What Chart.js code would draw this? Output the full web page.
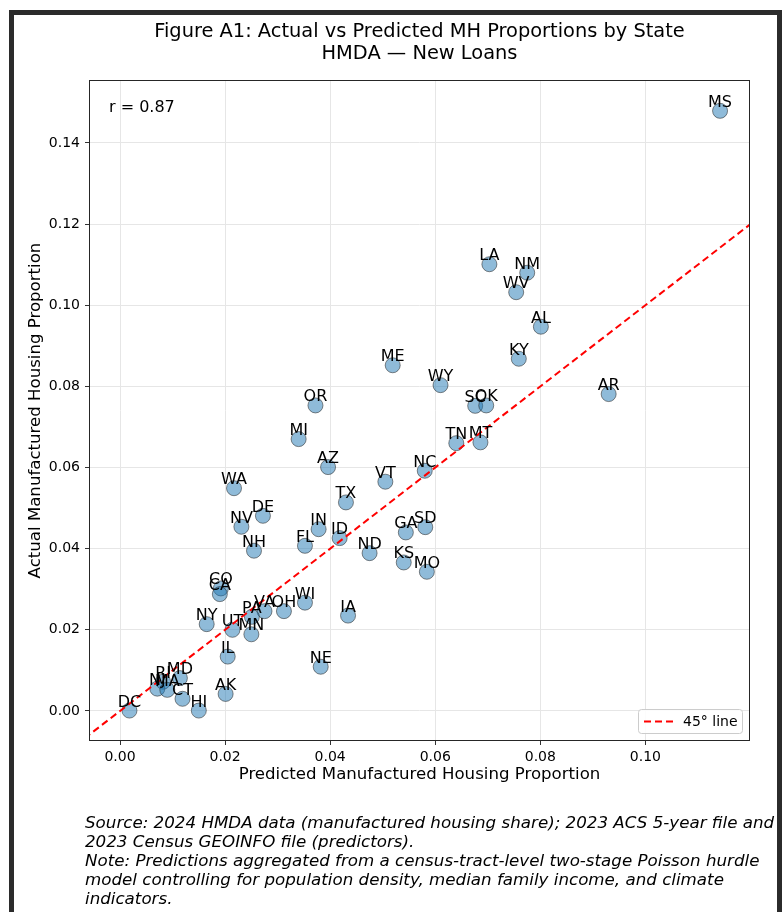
<!DOCTYPE html>
<html>
<head>
<meta charset="utf-8">
<script src="https://cdn.jsdelivr.net/npm/chart.js@4.4.1/dist/chart.umd.min.js"></script>
<style>
  html, body { margin: 0; padding: 0; background: #ffffff; }
  body { width: 784px; height: 912px; position: relative; overflow: hidden; font-family: "DejaVu Sans", sans-serif; }
  #frame { position: absolute; left: 9px; top: 10px; width: 763px; height: 960px; border: 5px solid #2b2b2b; border-bottom: none; box-sizing: content-box; }
  #chart { position: absolute; left: 0; top: 0; }
  #title { position: absolute; left: 60px; width: 719px; top: 20px; text-align: center; font-size: 19.4px; line-height: 22px; color: #000; white-space: nowrap; }
  #footer { position: absolute; left: 85px; top: 813px; font-size: 16.7px; line-height: 18.9px; font-style: italic; color: #000; white-space: nowrap; }
</style>
</head>
<body>
<div id="frame"></div>
<canvas id="chart" width="784" height="912"></canvas>
<div id="title">Figure A1: Actual vs Predicted MH Proportions by State<br>HMDA — New Loans</div>
<div id="footer">Source: 2024 HMDA data (manufactured housing share); 2023 ACS 5-year file and<br>2023 Census GEOINFO file (predictors).<br>Note: Predictions aggregated from a census-tract-level two-stage Poisson hurdle<br>model controlling for population density, median family income, and climate<br>indicators.</div>
<script>
// ---- data ----
const states = ["MS","LA","NM","WV","AL","KY","ME","WY","AR","SC","OK","OR","MI","TN","MT","AZ","NC","VT","WA","TX","DE","NV","SD","IN","GA","ID","FL","NH","ND","KS","MO","CO","CA","WI","OH","VA","IA","PA","NY","UT","MN","IL","NE","MD","RI","NJ","MA","AK","CT","HI","DC"];
const predicted = [0.1142,0.0703,0.0775,0.0754,0.0801,0.0759,0.0519,0.0610,0.0930,0.0676,0.0697,0.0372,0.0340,0.0640,0.0686,0.0396,0.0580,0.0505,0.0217,0.0430,0.0272,0.0231,0.0581,0.0378,0.0544,0.0418,0.0352,0.0255,0.0475,0.0540,0.0584,0.0192,0.0190,0.0352,0.0312,0.0275,0.0434,0.0251,0.0165,0.0214,0.0250,0.0205,0.0382,0.0114,0.0082,0.0071,0.0090,0.0201,0.0119,0.0150,0.0018];
const actual = [0.1479,0.1101,0.1080,0.1032,0.0947,0.0868,0.0852,0.0803,0.0781,0.0752,0.0753,0.0753,0.0670,0.0660,0.0662,0.0601,0.0592,0.0565,0.0549,0.0514,0.0481,0.0454,0.0453,0.0448,0.0440,0.0426,0.0407,0.0395,0.0389,0.0366,0.0343,0.0302,0.0288,0.0267,0.0246,0.0246,0.0235,0.0232,0.0214,0.0200,0.0189,0.0134,0.0109,0.0081,0.0072,0.0055,0.0052,0.0042,0.0030,0.0001,0.0001];
const diagonal = [-0.02, 0.15];
const xTicks = [0.00, 0.02, 0.04, 0.06, 0.08, 0.10];
const yTicks = [0.00, 0.02, 0.04, 0.06, 0.08, 0.10, 0.12, 0.14];
const correlation = 0.87;
const lineLabel = "45° line";
const xTitle = "Predicted Manufactured Housing Proportion";
const yTitle = "Actual Manufactured Housing Proportion";

const points = states.map((s, i) => ({ x: predicted[i], y: actual[i], label: s }));
const diagPoints = diagonal.map(v => ({ x: v, y: v }));

const FONT = "'DejaVu Sans', sans-serif";

const extrasPlugin = {
  id: 'extras',
  afterDatasetsDraw(chart) {
    const ctx = chart.ctx;
    const area = chart.chartArea;
    const meta = chart.getDatasetMeta(0);
    ctx.save();
    ctx.font = "16px " + FONT;
    ctx.fillStyle = "#000";
    ctx.textAlign = "center";
    ctx.textBaseline = "alphabetic";
    meta.data.forEach((el, i) => {
      ctx.fillText(points[i].label, el.x, el.y - 4);
    });
    ctx.textAlign = "left";
    ctx.textBaseline = "middle";
    ctx.fillText("r = " + correlation.toFixed(2), area.left + 20, area.top + 28);
    // legend
    const lx = area.right - 112, ly = area.bottom - 32, lw = 104, lh = 24;
    ctx.fillStyle = "rgba(255,255,255,0.85)";
    ctx.strokeStyle = "#cccccc";
    ctx.lineWidth = 1;
    ctx.beginPath();
    if (ctx.roundRect) ctx.roundRect(lx + 0.5, ly + 0.5, lw, lh, 3); else ctx.rect(lx + 0.5, ly + 0.5, lw, lh);
    ctx.fill();
    ctx.stroke();
    const ds = chart.data.datasets[1];
    ctx.strokeStyle = ds.borderColor;
    ctx.lineWidth = ds.borderWidth;
    ctx.setLineDash(ds.borderDash);
    ctx.beginPath();
    ctx.moveTo(lx + 6, ly + lh / 2 + 0.5);
    ctx.lineTo(lx + 35, ly + lh / 2 + 0.5);
    ctx.stroke();
    ctx.setLineDash([]);
    ctx.fillStyle = "#000";
    ctx.font = "14px " + FONT;
    ctx.textBaseline = "middle";
    ctx.fillText(ds.label, lx + 45, ly + lh / 2 + 1);
    // plot frame
    ctx.strokeStyle = "#262626";
    ctx.lineWidth = 1;
    ctx.strokeRect(area.left + 0.5, area.top + 0.5, area.right - area.left - 1, area.bottom - area.top - 1);
    ctx.restore();
  }
};

new Chart(document.getElementById('chart'), {
  type: 'scatter',
  data: {
    datasets: [
      {
        label: 'States',
        data: points,
        backgroundColor: 'rgba(31,119,180,0.5)',
        borderColor: 'rgba(40,40,40,0.55)',
        borderWidth: 1,
        pointRadius: 7.5,
        pointHoverRadius: 7.5,
        order: 2
      },
      {
        label: lineLabel,
        type: 'line',
        data: diagPoints,
        borderColor: '#ff0000',
        borderWidth: 2,
        borderDash: [7, 4],
        pointRadius: 0,
        fill: false,
        showLine: true,
        order: 1
      }
    ]
  },
  options: {
    responsive: false,
    animation: false,
    devicePixelRatio: 1,
    layout: { padding: { left: 0, right: 34, top: 80, bottom: 111 } },
    plugins: {
      legend: { display: false },
      tooltip: { enabled: false },
      title: { display: false }
    },
    scales: {
      x: {
        type: 'linear',
        min: -0.0059,
        max: 0.1199,
        afterFit(scale) { scale.height = 60; },
        afterBuildTicks(scale) { scale.ticks = xTicks.map(v => ({ value: v })); },
        ticks: {
          font: { family: FONT, size: 14 },
          color: '#000',
          padding: 4,
          maxRotation: 0,
          callback: v => Number(v).toFixed(2)
        },
        grid: { color: '#e6e6e6', lineWidth: 1, tickLength: 4, tickColor: '#333', drawTicks: true },
        border: { display: false },
        title: { display: true, text: xTitle, font: { family: FONT, size: 16.6 }, color: '#000', padding: { top: 0, bottom: 16 } }
      },
      y: {
        type: 'linear',
        min: -0.0074,
        max: 0.1555,
        afterFit(scale) { scale.width = 89; },
        afterBuildTicks(scale) { scale.ticks = yTicks.map(v => ({ value: v })); },
        ticks: {
          font: { family: FONT, size: 14 },
          color: '#000',
          padding: 5,
          callback: v => Number(v).toFixed(2)
        },
        grid: { color: '#e6e6e6', lineWidth: 1, tickLength: 4, tickColor: '#333', drawTicks: true },
        border: { display: false },
        title: { display: true, text: yTitle, font: { family: FONT, size: 16.6 }, color: '#000', padding: { top: 26, bottom: 0 } }
      }
    }
  },
  plugins: [extrasPlugin]
});
</script>
</body>
</html>
